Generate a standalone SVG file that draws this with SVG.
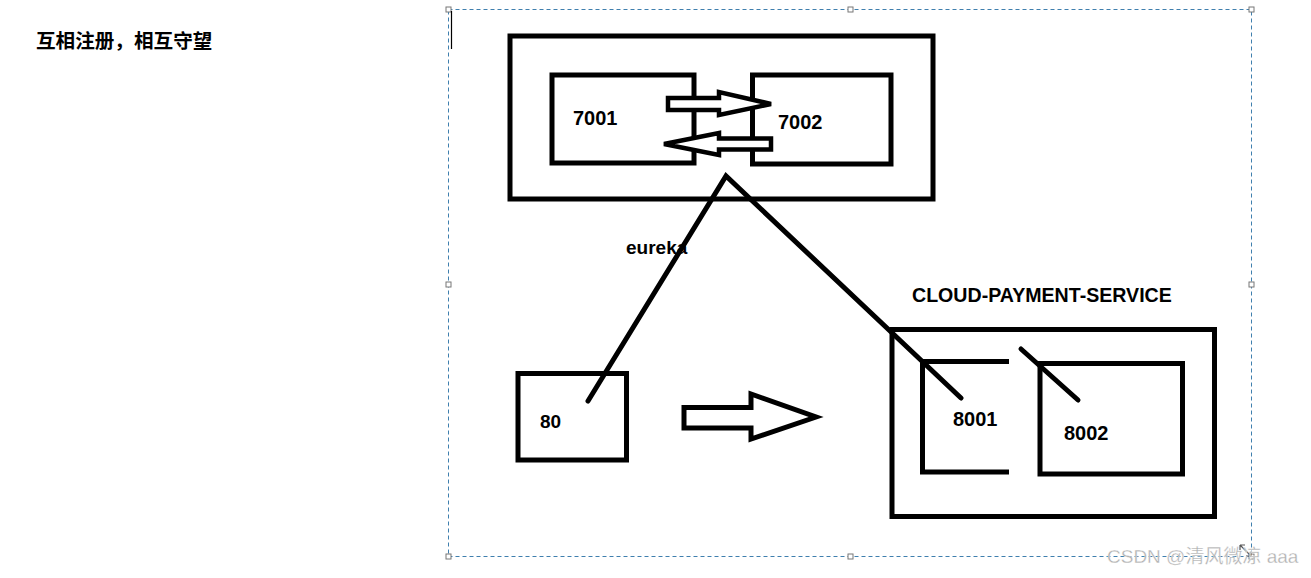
<svg xmlns="http://www.w3.org/2000/svg" width="1311" height="578" viewBox="0 0 1311 578">
<style>
.box{fill:none;stroke:#000;stroke-width:5}
.ln{fill:none;stroke:#000;stroke-width:5;stroke-linecap:round}
.arr{fill:#fff;stroke:#000;stroke-width:4.5;stroke-linejoin:miter}
.lbl{font-family:"Liberation Sans","Noto Sans",Arial,sans-serif;font-weight:bold;fill:#000}
.h{fill:#fff;stroke:#777;stroke-width:1}
</style>
<rect width="1311" height="578" fill="#fff"/>
<text x="36" y="47.5" style="font-family:'Noto Sans CJK SC',sans-serif;font-weight:bold;font-size:19.6px" fill="#000">互相注册，相互守望</text>
<g id="selection">
<rect x="448.5" y="9.5" width="803" height="547" fill="none" stroke="#3f7fae" stroke-width="1" stroke-dasharray="4 3"/>
<rect class="h" x="446" y="7" width="5" height="5"/>
<rect class="h" x="848" y="7" width="5" height="5"/>
<rect class="h" x="1249" y="7" width="5" height="5"/>
<rect class="h" x="446" y="282" width="5" height="5"/>
<rect class="h" x="1249" y="282" width="5" height="5"/>
<rect class="h" x="446" y="554" width="5" height="5"/>
<rect class="h" x="848" y="554" width="5" height="5"/>
<rect class="h" x="1249" y="554" width="5" height="5"/>
<line x1="451.5" y1="11" x2="451.5" y2="49" stroke="#000" stroke-width="1.2"/>
</g>
<g id="eureka-cluster">
<rect class="box" x="510" y="36" width="423" height="163"/>
<text class="lbl" x="626" y="254" font-size="19">eureka</text>
</g>
<g id="n7001">
<rect class="box" x="552" y="75" width="142" height="88"/>
<text class="lbl" x="573" y="125" font-size="20">7001</text>
</g>
<g id="n7002">
<rect class="box" x="752.5" y="75" width="138.5" height="89"/>
<text class="lbl" x="778" y="129" font-size="20">7002</text>
</g>
<g id="payment-cluster">
<rect class="box" x="892" y="329.5" width="322.5" height="187"/>
<text class="lbl" x="912" y="302" font-size="19.6">CLOUD-PAYMENT-SERVICE</text>
</g>
<g id="n8001">
<path class="box" d="M1009,361.5 H922.5 V472 H1009"/>
<text class="lbl" x="953" y="425.5" font-size="20">8001</text>
</g>
<g id="n8002">
<rect class="box" x="1040" y="363.5" width="142.5" height="110.5"/>
<text class="lbl" x="1064" y="440" font-size="20">8002</text>
</g>
<g id="n80">
<rect class="box" x="518" y="373.5" width="108.5" height="86.5"/>
<text class="lbl" x="540" y="428" font-size="19">80</text>
</g>
<g id="connectors">
<polygon class="arr" points="668,98 719,98 719,92 771,104 719,115 719,110 668,110"/>
<polygon class="arr" points="771,138.5 719,138.5 719,133 664,144 719,155 719,149.5 771,149.5"/>
<polyline class="ln" points="588,401 726,176 961,398"/>
<line class="ln" x1="1021" y1="349" x2="1078" y2="400"/>
<polygon class="arr" points="684,407.5 751,407.5 751,394 816,417 751,439 751,428 684,428" style="stroke-width:5"/>
</g>
<g id="watermark">
<path d="M1240,545 L1251,556 M1240,545 L1240,550 M1240,545 L1245,545 M1251,556 L1251,551 M1251,556 L1246,556" stroke="#555" stroke-width="1.2" fill="none"/>
<text x="1107" y="563" style="font-family:'Liberation Sans','Noto Sans CJK SC',sans-serif;font-size:19px" fill="#b0b0b0" stroke="#fff" stroke-width="0.3">CSDN @清风微凉 aaa</text>
</g>
</svg>
